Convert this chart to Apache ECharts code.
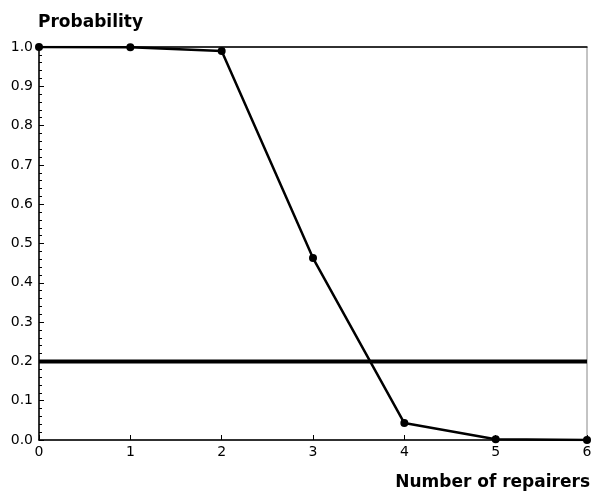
<!DOCTYPE html>
<html>
<head>
    <meta charset="utf-8">
    <title>Probability vs repairers</title>
    <script src="https://cdn.jsdelivr.net/npm/echarts@6/dist/echarts.min.js"></script>
    <style>
        body { margin: 0; background: #fff; }
        #main { width: 596px; height: 493px; }
    </style>
</head>
<body>
<div id="main"></div>
<script type="text/javascript">
    // repairers vs probability
    var repairers = [0, 1, 2, 3, 4, 5, 6];
    var probability = [1.0, 0.9995, 0.99, 0.463, 0.043, 0.002, 0.0];
    var threshold = 0.2;

    var myChart = echarts.init(document.getElementById('main'));
    var font = 'DejaVu Sans, sans-serif';

    var option = {
        animation: false,
        textStyle: { fontFamily: font },
        grid: {
            left: 39, right: 9, top: 47, bottom: 53,
            show: true, borderColor: '#888', borderWidth: 1
        },
        title: [
            { text: 'Probability', left: 33, top: 9,
              textStyle: { fontSize: 17, fontWeight: 'bold', color: '#000', fontFamily: font } },
            { text: 'Number of repairers', right: 1, top: 469,
              textStyle: { fontSize: 17, fontWeight: 'bold', color: '#000', fontFamily: font } }
        ],
        xAxis: [{
            type: 'value', min: 0, max: 6, interval: 1,
            axisLine: { lineStyle: { color: '#000', width: 1.5 } },
            axisTick: { inside: true, length: 5, lineStyle: { color: '#000' } },
            axisLabel: { color: '#000', fontSize: 14, margin: 5 },
            splitLine: { show: false }
        }, {
            type: 'value', min: 0, max: 6, position: 'top',
            axisLine: { show: true, onZero: false, lineStyle: { color: '#000', width: 1.5 } },
            axisTick: { show: false }, axisLabel: { show: false },
            splitLine: { show: false }
        }],
        yAxis: {
            type: 'value', min: 0, max: 1, interval: 0.1,
            axisLine: { show: true, lineStyle: { color: '#000', width: 1.5 } },
            axisTick: { show: true, inside: true, length: 5, lineStyle: { color: '#000' } },
            minorTick: { show: true, splitNumber: 5, length: 3, lineStyle: { color: '#000' } },
            axisLabel: { color: '#000', fontSize: 14, margin: 6,
                formatter: function (v) { return v.toFixed(1); } },
            splitLine: { show: false }
        },
        series: [{
            type: 'line',
            data: repairers.map(function (x, i) { return [x, probability[i]]; }),
            symbol: 'circle', symbolSize: 8,
            itemStyle: { color: '#000' },
            lineStyle: { color: '#000', width: 2.5 },
            z: 3
        }, {
            type: 'line',
            data: [[0, threshold], [6, threshold]],
            symbol: 'none',
            lineStyle: { color: '#000', width: 4 },
            z: 2
        }]
    };
    myChart.setOption(option);
</script>
</body>
</html>
